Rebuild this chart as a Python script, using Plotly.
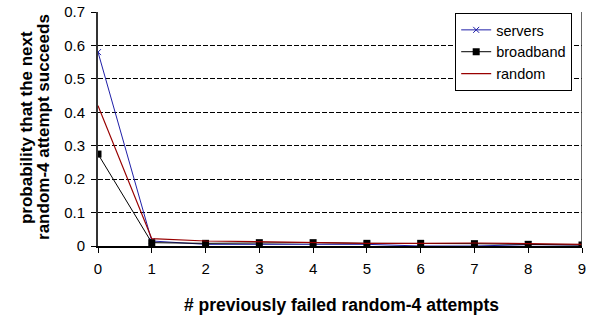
import plotly.graph_objects as go

x_vals = [0, 1, 2, 3, 4, 5, 6, 7, 8, 9]
servers = [0.58, 0.015, 0.005, 0.005, 0.003, 0.005, 0.0, 0.0, 0.004, 0.003]
broadband = [0.275, 0.01, 0.008, 0.01, 0.01, 0.008, 0.008, 0.007, 0.005, 0.003]
random_ = [0.42, 0.022, 0.015, 0.012, 0.01, 0.008, 0.008, 0.009, 0.007, 0.005]
y_ticks = [0, 0.1, 0.2, 0.3, 0.4, 0.5, 0.6, 0.7]
y_tick_text = ["0", "0.1", "0.2", "0.3", "0.4", "0.5", "0.6", "0.7"]
y_title_lines = ["probability that the next", "random-4 attempt succeeds"]
x_title = "# previously failed random-4 attempts"

FONT = "Liberation Sans, Arial, sans-serif"

fig = go.Figure()
fig.add_trace(go.Scatter(x=x_vals, y=servers, name="servers", mode="lines+markers",
                         line=dict(color="#1f1fa8", width=1),
                         marker=dict(symbol="x-thin", size=6, line=dict(color="#1f1fa8", width=1), color="#1f1fa8")))
fig.add_trace(go.Scatter(x=x_vals, y=broadband, name="broadband", mode="lines+markers",
                         line=dict(color="black", width=1),
                         marker=dict(symbol="square", size=7, color="black")))
fig.add_trace(go.Scatter(x=x_vals, y=random_, name="random", mode="lines",
                         line=dict(color="#990000", width=1.2)))

fig.add_shape(type="line", xref="x", yref="y", x0=9, x1=9, y0=0, y1=0.7,
              line=dict(color="#333333", width=1.5))

for txt, xp in zip(y_title_lines, [-0.149, -0.114]):
    fig.add_annotation(text="<b>" + txt + "</b>",
                       xref="paper", yref="paper", x=xp, y=0.508, xanchor="center", yanchor="middle",
                       textangle=-90, showarrow=False, font=dict(size=17, family=FONT, color="black"))
fig.add_annotation(text="<b>" + x_title + "</b>",
                   xref="paper", yref="paper", x=0.503, y=-0.254, xanchor="center", yanchor="middle",
                   showarrow=False, font=dict(size=17.5, family=FONT, color="black"))

fig.update_layout(
    width=589, height=315,
    margin=dict(l=98, r=3, t=10, b=69),
    paper_bgcolor="white", plot_bgcolor="white",
    font=dict(family=FONT, size=15, color="black"),
    showlegend=True,
    legend=dict(x=0.738, y=0.996, xanchor="left", yanchor="top",
                bordercolor="black", borderwidth=1, bgcolor="white",
                font=dict(size=14.5), tracegroupgap=0, itemwidth=30),
    xaxis=dict(range=[0, 9], tickvals=x_vals, ticktext=[str(v) for v in x_vals],
               showgrid=False, zeroline=False, showline=True, linecolor="black", linewidth=1.5,
               ticks="outside", ticklen=5, tickcolor="black", tickfont=dict(size=15),
               ticklabelstandoff=3, ticklabeloverflow="allow"),
    yaxis=dict(range=[0, 0.7], tickvals=y_ticks, ticktext=y_tick_text,
               showgrid=True, gridcolor="black", griddash="5px,2px", gridwidth=1,
               zeroline=False, showline=True, linecolor="#333333", linewidth=2,
               ticks="outside", ticklen=5, tickcolor="black", tickfont=dict(size=15),
               ticklabelstandoff=3),
)

fig.write_html("out.html", config={"displayModeBar": False},
               post_script="document.body.style.margin='0px';")
